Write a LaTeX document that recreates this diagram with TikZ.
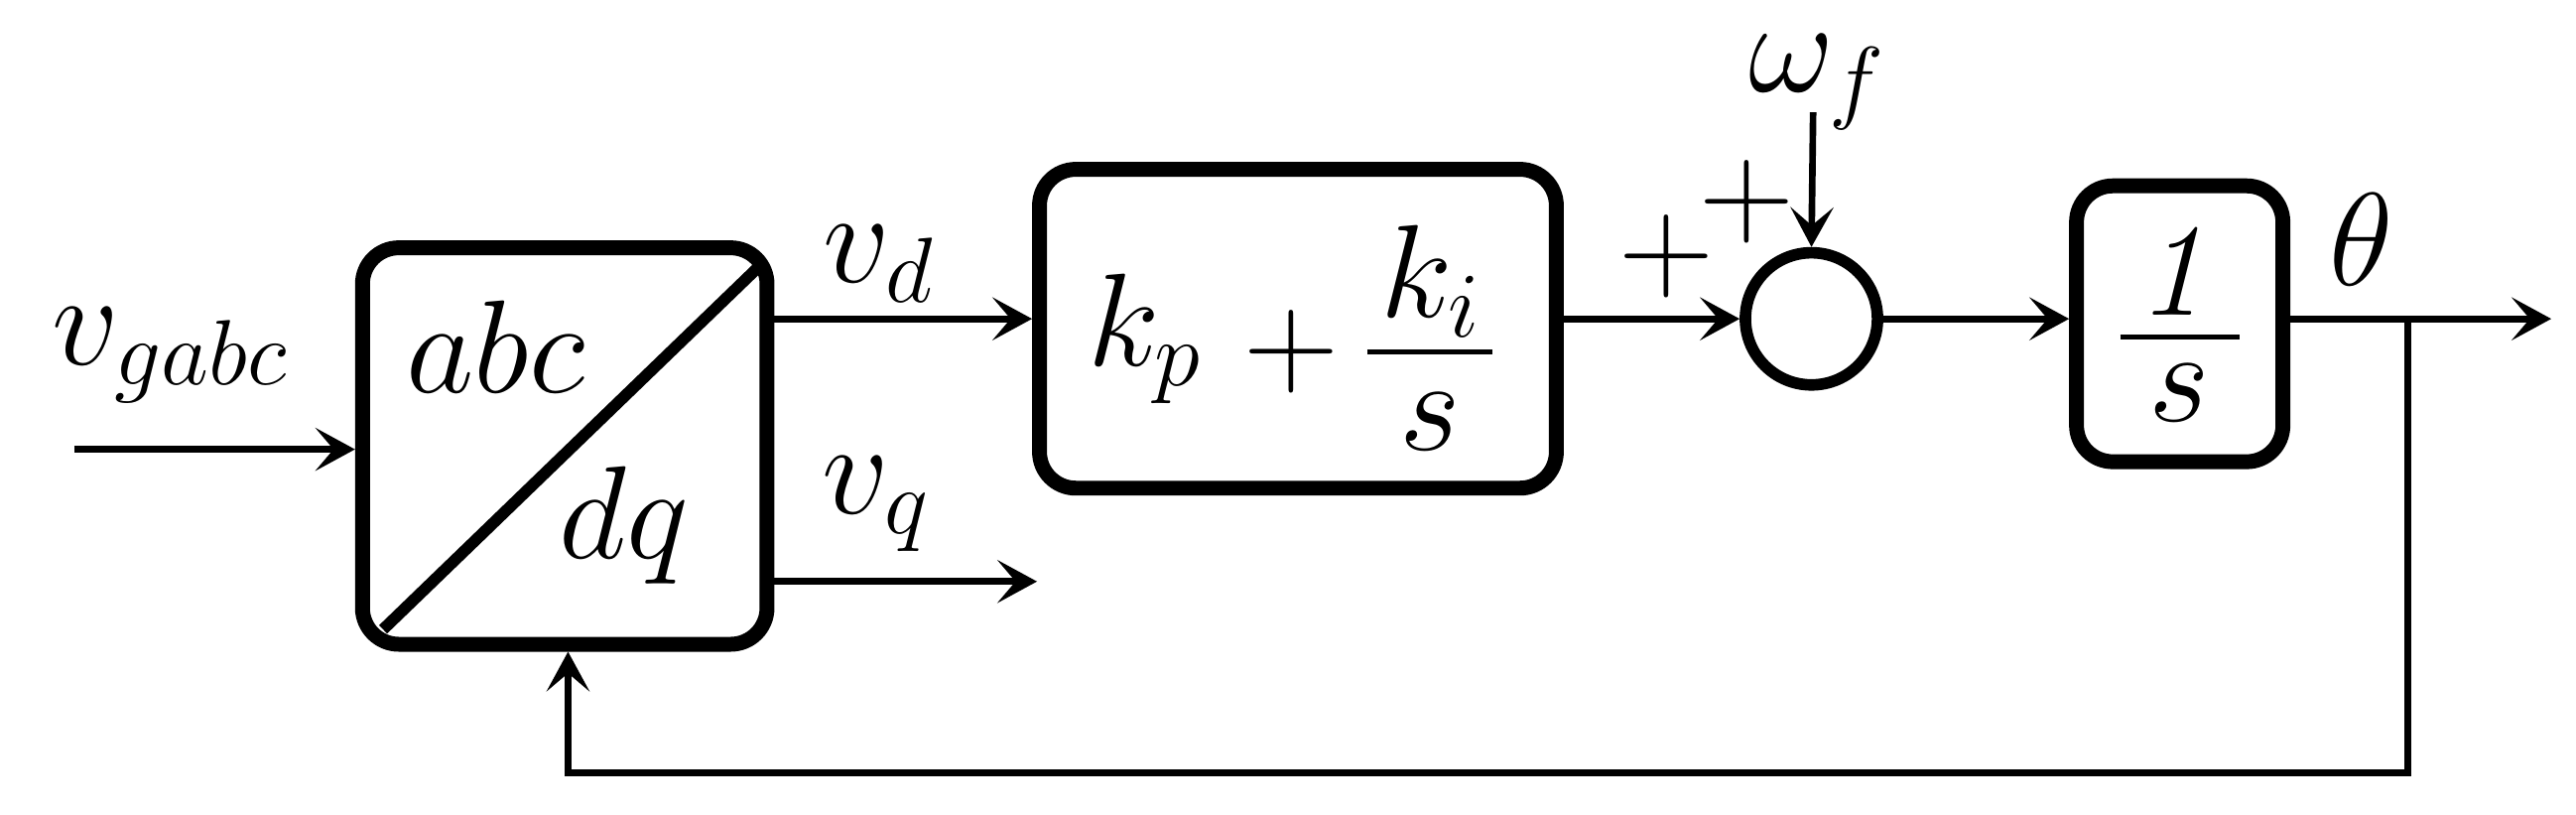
\RequirePackage{fix-cm}
\documentclass[tikz,border=0pt]{standalone}
\usetikzlibrary{arrows.meta}
\begin{document}
\begin{tikzpicture}[x=1pt,y=-1pt,
  blk/.style={draw,line width=9pt,rounded corners=22pt},
  arr/.style={line width=4pt,-{Stealth[length=24pt,width=26pt,inset=11pt]}},
  txt/.style={font=\fontsize{80}{90}\selectfont,inner sep=0pt}]
\useasboundingbox (0,0) rectangle (1560,493);
\node[blk,minimum width=245pt,minimum height=240pt] (T) at (342,270) {};
\draw[line width=7pt] (232,381) -- (461,160);
\node[blk,minimum width=313pt,minimum height=193pt] (PI) at (786,199) {};
\node[draw,circle,line width=7pt,minimum size=80pt] (S) at (1097,193) {};
\node[blk,minimum width=125pt,minimum height=167pt] (I) at (1320,196) {};
\coordinate (in) at (45,272);
\coordinate (vq) at (628,352);
\coordinate (wf) at (1098,68);
\coordinate (out) at (1545,193);
\coordinate (br) at (1458,193);
\coordinate (c1) at (1458,468);
\coordinate (c2) at (344,468);
\draw[arr] (in) -- (T.west |- in);
\draw[arr] (462,193) -- (PI.west |- 0,193);
\draw[arr] (462,352) -- (vq);
\draw[arr] (PI.east |- S) -- (S.west);
\draw[arr] (wf) -- (S.north);
\draw[arr] (S.east) -- (I.west |- S);
\draw[arr] (I.east |- S) -- (out);
\draw[arr] (br) -- (c1) -- (c2) -- (T.south -| c2);
\node[txt] (lv) at (103,215) {$v_{gabc}$};
\node[txt] (la) at (300,210) {$abc$};
\node[txt] (ld) at (378,318) {$dq$};
\node[txt] (lvd) at (532,160) {$v_d$};
\node[txt] (lvq) at (530,305) {$v_q$};
\node[txt] (lw) at (1100,50) {$\omega_f$};
\node[txt] (lt) at (1430,145) {$\theta$};
\node[txt] (p1) at (1009,155) {$+$};
\node[txt] (p2) at (1058,122) {$+$};
\node[txt] (kp) at (693,205) {$k_p$};
\node[txt] (pl) at (782,213) {$+$};
\node[txt] (ki) at (866,170) {$k_i$};
\draw[line width=2.5pt] (828,213) -- (904,213);
\node[txt] (s1) at (866,255) {$s$};
\node[txt] (one) at (1320,165) {$\mathit{1}$};
\draw[line width=2.5pt] (1284,204) -- (1356,204);
\node[txt] (s2) at (1320,238) {$s$};
\end{tikzpicture}
\end{document}
